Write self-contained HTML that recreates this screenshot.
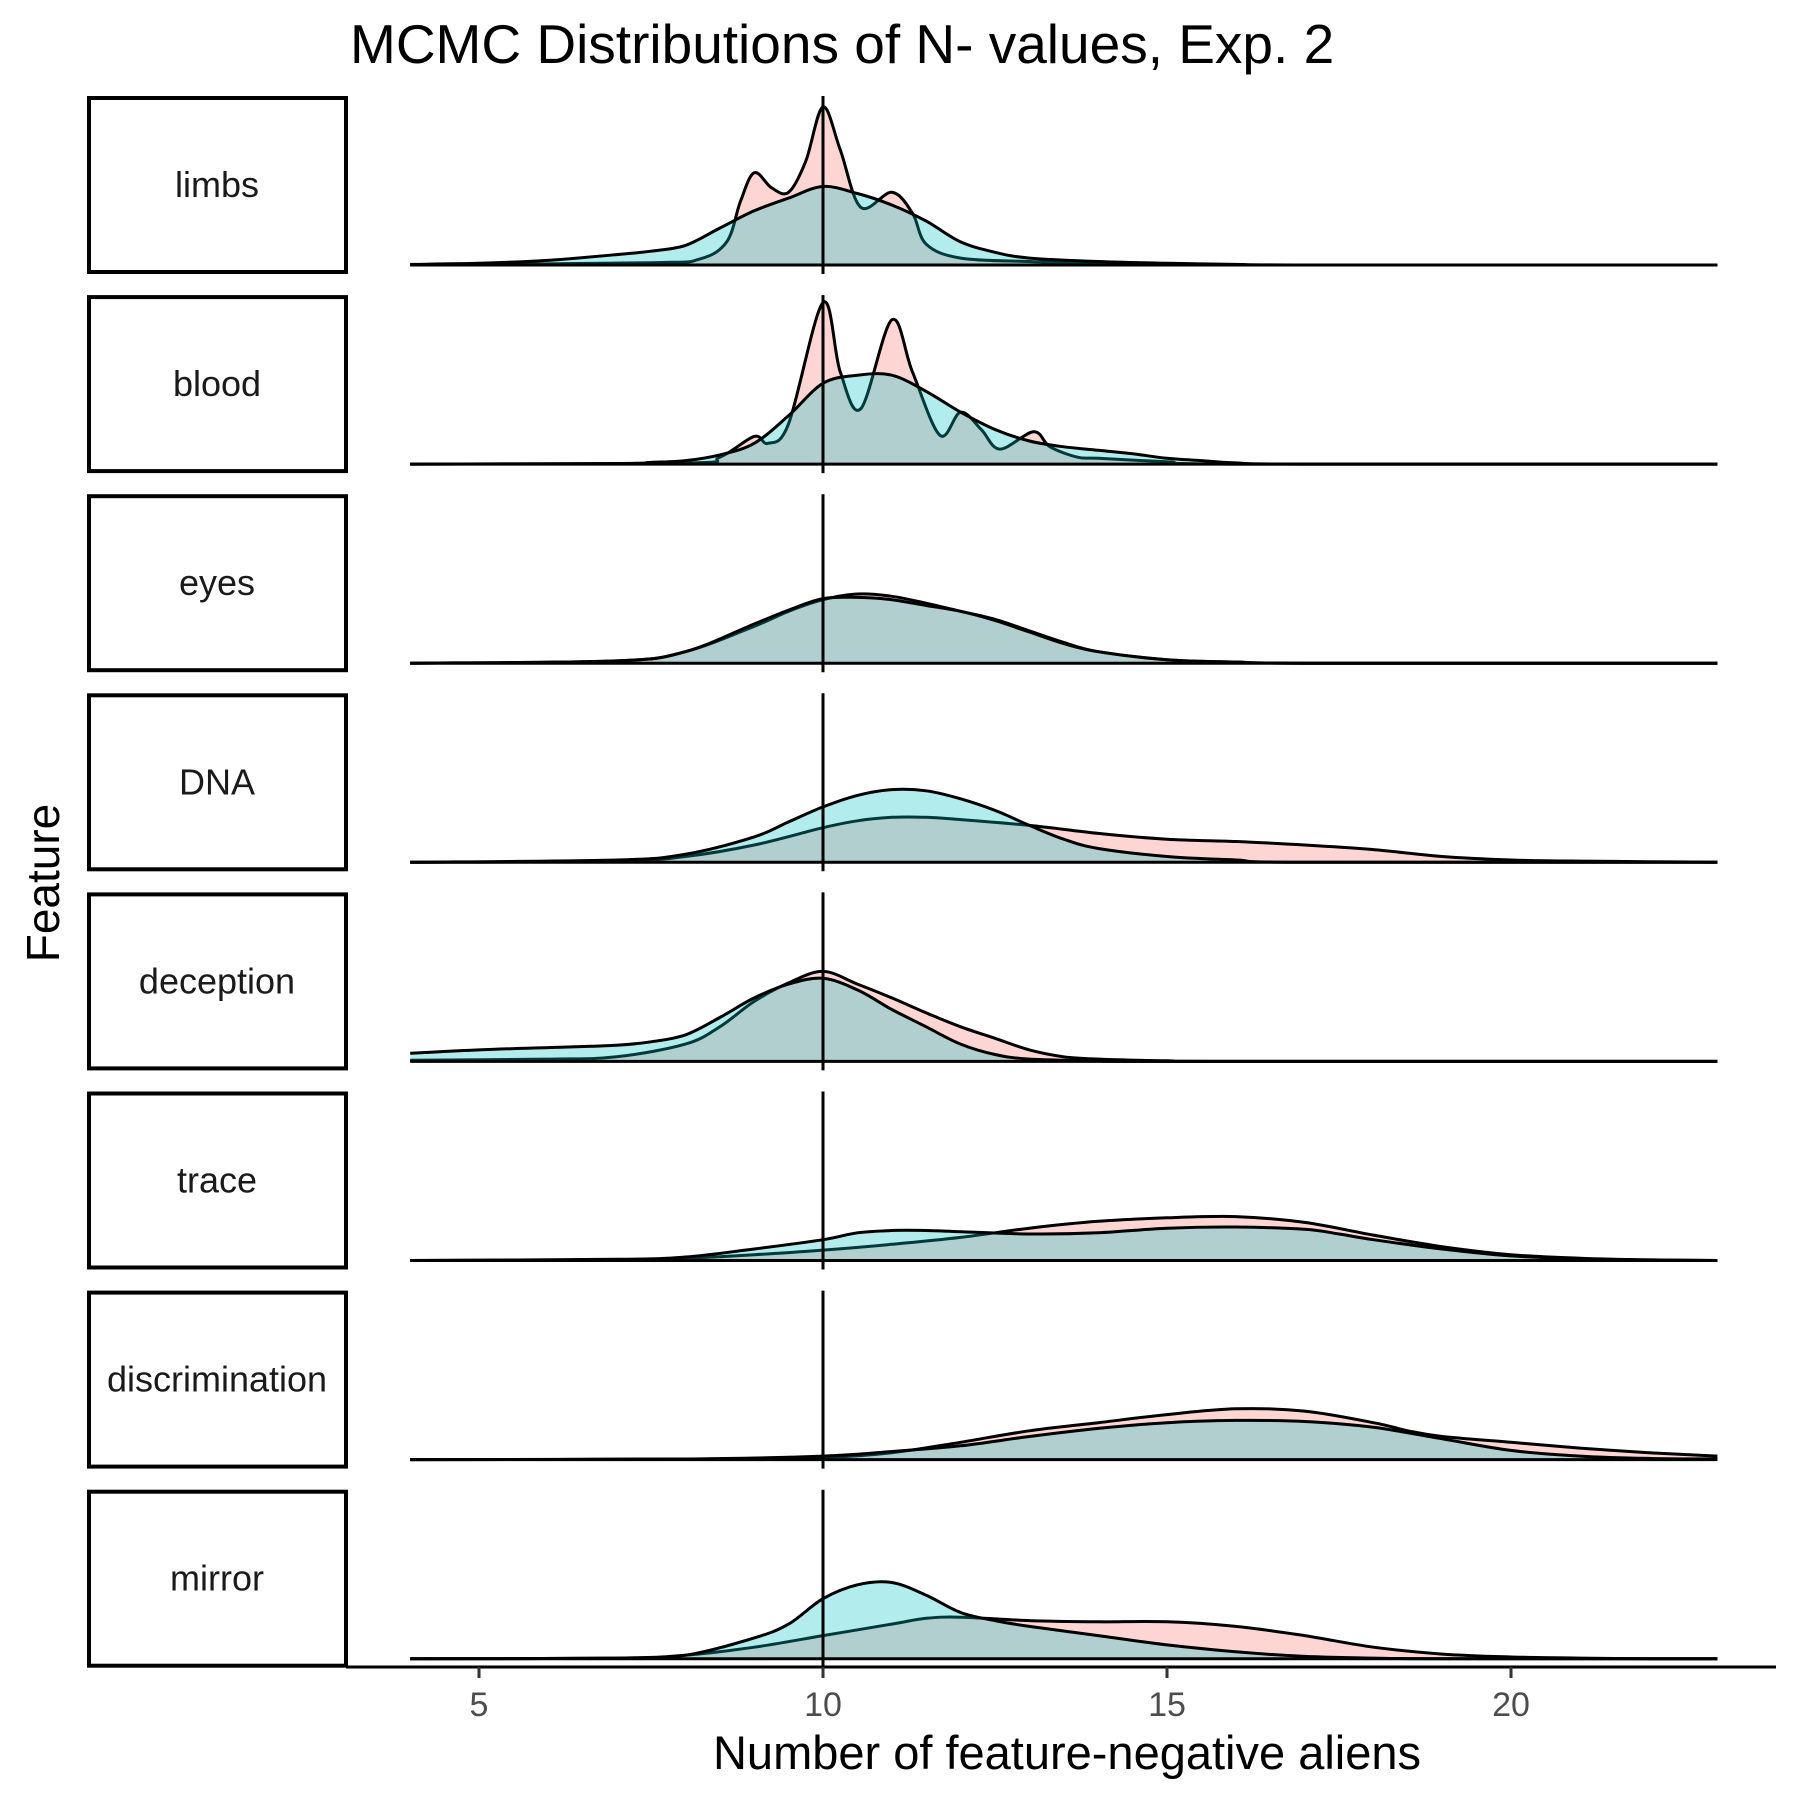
<!DOCTYPE html>
<html><head><meta charset="utf-8"><style>
body{margin:0;background:#fff}
svg{display:block;font-family:"Liberation Sans",sans-serif}
</style></head><body>
<svg id="chart" width="1800" height="1800" viewBox="0 0 1800 1800">
<text x="350" y="63" font-size="55" fill="#000">MCMC Distributions of N- values, Exp. 2</text>
<g id="panels"></g>
<text x="1067" y="1769" font-size="47" text-anchor="middle" fill="#000">Number of feature-negative aliens</text>
<text transform="translate(59,883) rotate(-90)" font-size="46" text-anchor="middle" fill="#000">Feature</text>
</svg>
<script>
const features = ["limbs","blood","eyes","DNA","deception","trace","discrimination","mirror"];
const xTicks = [5,10,15,20];
const refValue = 10;
// teal series (x knots, heights)
const tealX = [
 [4,5,6,7,7.5,8,8.5,9,9.5,10,10.5,11,11.5,12,12.5,13,14,15,16,17,23],
 [4,7,7.5,8,8.5,9,9.5,10,10.5,11,11.5,12,12.5,13,13.5,14,14.5,15,15.5,16,17,23],
 [4,7,8,9,9.5,10,10.5,11,11.5,12,12.5,13,13.5,14,15,16,17,23],
 [4,7,8,9,9.5,10,10.5,11,11.5,12,12.5,13,13.5,14,15,16,17,23],
 [4,5,6,7,7.5,8,8.5,9,9.5,10,10.5,11,11.5,12,12.5,13,14,15,23],
 [4,7,8,9,10,10.5,11,11.5,12,13,14,15,16,17,17.5,18,19,20,21,22,23],
 [4,8,10,11,12,13,14,15,16,17,18,19,20,21,22,23],
 [4,7,8,9,9.5,10,10.5,11,11.5,12,12.5,13,14,15,16,17,18,19,23]
];
const tealY = [
 [0.5,1.5,4,9,12,17,32,47,58,68,62,52,38,20,11,6,3,1.5,0.5,0,0],
 [0,0.5,1.5,3,8,18,42,70,77,77,63,45,30,20,15,12,9,5,3,1,0,0],
 [0,2,10,34,46,56,57,55,50,45,37,27,17,10,3,1,0,0],
 [0,2,7,22,35,48,58,63,62,55,45,32,20,12,5,2,0,0],
 [7,10,12,14,17,23,38,55,67,72,62,45,30,15,6,2,0.5,0,0],
 [0,1,3,10,18,24,26,26,25,23,24,28,29,27,23,18,10,4,1.5,0.5,0],
 [0,0.5,3,7,12,20,27,32,34,33,28,18,8,3,1,0.5],
 [0,0.5,3,18,30,52,64,66,55,40,33,28,20,12,6,2,0.5,0,0]
];
// pink series
const pinkX = [
 [4,7.5,8.2,8.6,8.8,9,9.25,9.5,9.75,10,10.25,10.55,11,11.3,11.5,12,13,14,15,16,23],
 [4,8,8.5,9,9.2,9.5,10,10.25,10.55,11,11.3,11.7,12,12.3,12.57,13.06,13.3,13.7,14,15,16,23],
 [4,7,8,9,9.5,10,10.5,11,11.5,12,12.5,13,13.5,14,15,16,17,23],
 [4,7,8,9,10,10.5,11,11.5,12,13,14,15,16,17,18,19,20,21,22,23],
 [4,6,7,8,8.5,9,9.5,10,10.5,11,11.5,12,12.5,13,13.5,14,15,16,23],
 [4,7,8,9,10,11,12,13,14,15,16,17,18,19,20,21,22,23],
 [4,8,10,11,12,13,14,15,16,17,18,18.5,19,20,21,22,23],
 [4,7,8,9,10,11,11.5,12,13,14,15,16,17,18,19,20,21,22,23]
];
const pinkY = [
 [0,2,5,20,55,80,67,63,90,137,100,50,63,45,18,6,3,1.5,0.5,0,0],
 [0,1,6,24,18,35,140,80,48,125,80,25,45,30,13,28,15,6,5,2,0,0],
 [0,2,10,32,45,55,60,58,52,45,38,28,18,10,3,1,0,0],
 [0,1,5,15,30,36,39,39,37,32,25,20,18,15,11,5,2,1,0.5,0],
 [1,2,4,15,30,52,68,78,67,55,42,30,20,10,4,2,0.5,0,0],
 [0,0.5,2,5,9,14,20,28,34,37,38,33,22,12,5,2,0.5,0],
 [0,0.5,2,6,15,25,32,39,44,42,32,25,20,15,10,6,3],
 [0,0.5,3,10,20,30,35,36,33,32,32,28,20,10,4,1.5,0.5,0,0]
];
const NS='http://www.w3.org/2000/svg';
const g=document.getElementById('panels');
function xScale(v){return 479+(v-5)*68.8;}
function baseY(i){return 265+i*199.1;}
function hScale(v){return v*1.154;}
function mk(tag,attrs){const e=document.createElementNS(NS,tag);for(const k in attrs)e.setAttribute(k,attrs[k]);return e;}
function smooth(pts){
 let d='M'+pts[0][0].toFixed(1)+','+pts[0][1].toFixed(1);
 for(let i=0;i<pts.length-1;i++){
  const p0=pts[Math.max(0,i-1)],p1=pts[i],p2=pts[i+1],p3=pts[Math.min(pts.length-1,i+2)];
  const c1x=p1[0]+(p2[0]-p0[0])/6,c1y=p1[1]+(p2[1]-p0[1])/6;
  const c2x=p2[0]-(p3[0]-p1[0])/6,c2y=p2[1]-(p3[1]-p1[1])/6;
  d+=' C'+c1x.toFixed(1)+','+Math.min(c1y,pts[0][2]).toFixed(1)+' '+c2x.toFixed(1)+','+Math.min(c2y,pts[0][2]).toFixed(1)+' '+p2[0].toFixed(1)+','+p2[1].toFixed(1);
 }
 return d;
}
features.forEach((f,i)=>{
 const b=baseY(i), top=98+i*199.1;
 const box=mk('rect',{x:89,y:top,width:257,height:174,fill:'none',stroke:'#000','stroke-width':4});
 
 
 g.appendChild(box);
 const t=mk('text',{x:217,y:top+87+12,'font-size':36,'text-anchor':'middle',fill:'#1a1a1a'});
 t.textContent=f;
 
 
 g.appendChild(t);
 [[pinkX[i],pinkY[i],'rgba(248,118,109,0.3)','pink'],[tealX[i],tealY[i],'rgba(0,191,196,0.3)','teal']].forEach(s=>{
  const pts=s[0].map((x,k)=>[xScale(x),b-hScale(s[1][k]),b]);
  const d=smooth(pts);
  const area=mk('path',{d:d+' L'+xScale(s[0][s[0].length-1])+','+b+' L'+xScale(s[0][0])+','+b+' Z',fill:s[2],stroke:'none'});
  
  
  g.appendChild(area);
  const line=mk('path',{d:d,fill:'none',stroke:'#000','stroke-width':3});
  
  
  g.appendChild(line);
 });
 const bl=mk('line',{x1:xScale(4),x2:xScale(23),y1:b,y2:b,stroke:'#000','stroke-width':3});
 
 
 g.appendChild(bl);
 const vx=xScale(refValue);
 const vl=mk('line',{x1:vx,x2:vx,y1:top-2,y2:(i===features.length-1?1667:top+176),stroke:'#000','stroke-width':3});
 
 
 g.appendChild(vl);
});
const ax=mk('line',{x1:346,x2:1776,y1:1667,y2:1667,stroke:'#000','stroke-width':3});


g.appendChild(ax);
xTicks.forEach(v=>{
 const tk=mk('line',{x1:xScale(v),x2:xScale(v),y1:1667,y2:1678,stroke:'#333','stroke-width':3});
 
 
 g.appendChild(tk);
 const tl=mk('text',{x:xScale(v),y:1716,'font-size':34,'text-anchor':'middle',fill:'#4d4d4d'});
 tl.textContent=v;
 
 
 g.appendChild(tl);
});
</script>
</body></html>
